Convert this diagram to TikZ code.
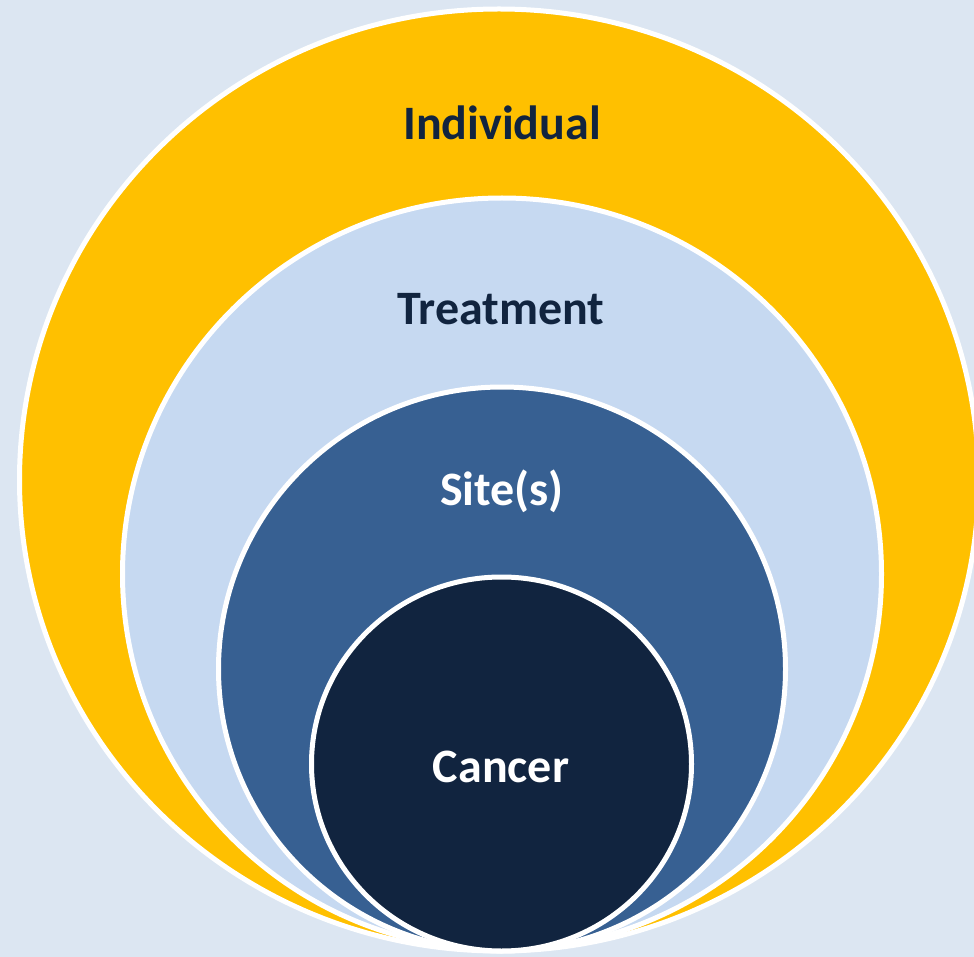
\documentclass[tikz,border=0pt]{standalone}
\usepackage{fontspec}
\setmainfont{Carlito}
\definecolor{bgc}{HTML}{DCE6F2}
\definecolor{gold}{HTML}{FFC000}
\definecolor{pale}{HTML}{C6D9F1}
\definecolor{midblue}{HTML}{376092}
\definecolor{navy}{HTML}{11243F}
\begin{document}
\begin{tikzpicture}[x=1pt,y=-1pt,
  ring/.style={draw=white,line width=5pt},
  lbl/.style={anchor=base,inner sep=0pt,font=\fontsize{48}{52}\selectfont\bfseries}]
\useasboundingbox (0,0) rectangle (974,957);
\clip (0,0) rectangle (974,957);
\fill[bgc] (0,0) rectangle (974,957);
\filldraw[ring,fill=gold] (499,480) ellipse [x radius=479.5pt,y radius=471pt];
\filldraw[ring,fill=pale] (502,574) ellipse [x radius=379.5pt,y radius=376pt];
\filldraw[ring,fill=midblue] (502,669) ellipse [x radius=283.5pt,y radius=282pt];
\filldraw[ring,fill=navy] (501.5,764) ellipse [x radius=190pt,y radius=187pt];
\node[lbl,text=navy] (individual) at (502,140) {Individual};
\node[lbl,text=navy] (treatment) at (501,325) {Treatment};
\node[lbl,text=white] (sites) at (502,505) {Site(s)};
\node[lbl,text=white] (cancer) at (501,782) {Cancer};
\end{tikzpicture}
\end{document}
